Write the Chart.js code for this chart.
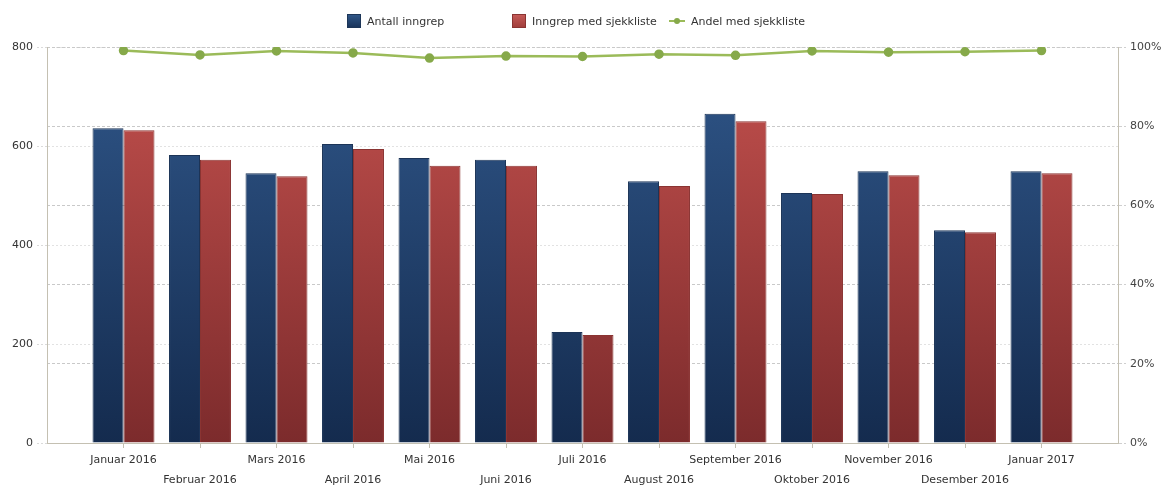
<!DOCTYPE html>
<html>
<head>
<meta charset="utf-8">
<script src="https://cdn.jsdelivr.net/npm/chart.js@4/dist/chart.umd.min.js"></script>
<style>
    html, body { margin: 0; padding: 0; background: #fff; }
    #wrap { position: relative; width: 1166px; height: 486px; }
    #legend { position: absolute; top: 13px; left: 0; width: 1166px; height: 18px;
        font: 11px "DejaVu Sans", sans-serif; color: #333; }
    .item { position: absolute; top: 0; display: flex; align-items: center; height: 16px; }
    .box { width: 14px; height: 14px; margin-right: 6px; box-sizing: border-box; }
    .blue { background: linear-gradient(#2f5687, #1a355c); border: 1px solid #1d3658; }
    .red { background: linear-gradient(#c55a57, #a23f3c); border: 1px solid #8a3432; }
    .lineMark { position: relative; width: 16px; height: 14px; margin-right: 6px; }
    .lineMark::before { content: ''; position: absolute; left: 0; right: 0; top: 6px; height: 2px; background: #9bbb59; }
    .lineMark::after { content: ''; position: absolute; left: 5px; top: 4px; width: 6px; height: 6px; border-radius: 50%; background: #86a94a; }
</style>
</head>
<body>
<div id="wrap">
    <canvas id="chart" width="1166" height="486"></canvas>
    <div id="legend">
        <div class="item" style="left:347px"><div class="box blue"></div>Antall inngrep</div>
        <div class="item" style="left:512px"><div class="box red"></div>Inngrep med sjekkliste</div>
        <div class="item" style="left:669px"><div class="lineMark"></div>Andel med sjekkliste</div>
    </div>
</div>
<script>
const months = ['Januar 2016', 'Februar 2016', 'Mars 2016', 'April 2016', 'Mai 2016', 'Juni 2016',
    'Juli 2016', 'August 2016', 'September 2016', 'Oktober 2016', 'November 2016', 'Desember 2016', 'Januar 2017'];
const antallInngrep = [636, 582, 545, 604, 576, 572, 224, 529, 665, 505, 549, 430, 549];
const medSjekkliste = [632, 572, 539, 594, 560, 560, 218, 519, 650, 503, 541, 426, 545];
const andelProsent = [99.1, 98.0, 99.0, 98.5, 97.2, 97.7, 97.6, 98.2, 97.9, 99.0, 98.7, 98.8, 99.1];
const leftTicks = [0, 200, 400, 600, 800];
const rightTicks = [0, 20, 40, 60, 80, 100];

const axisColor = '#c4c0b2';
const textColor = '#333';

function verticalGradient(context, top, bottom) {
    const area = context.chart.chartArea;
    if (!area) return top;
    const g = context.chart.ctx.createLinearGradient(0, area.top, 0, area.bottom);
    g.addColorStop(0, top);
    g.addColorStop(1, bottom);
    return g;
}

Chart.defaults.font.family = '"DejaVu Sans", sans-serif';
Chart.defaults.font.size = 11;
Chart.defaults.color = textColor;

new Chart(document.getElementById('chart').getContext('2d'), {
    data: {
        labels: months,
        datasets: [{
            type: 'line',
            label: 'Andel med sjekkliste',
            data: andelProsent,
            yAxisID: 'yPct',
            borderColor: '#9bbb59',
            borderWidth: 2.5,
            pointBackgroundColor: '#86a94a',
            pointBorderColor: '#86a94a',
            pointRadius: 3.5,
            tension: 0,
            order: 0
        }, {
            type: 'bar',
            label: 'Antall inngrep',
            data: antallInngrep,
            yAxisID: 'y',
            backgroundColor: ctx => verticalGradient(ctx, '#30578a', '#142b4e'),
            borderColor: '#1c3457',
            borderWidth: 1,
            categoryPercentage: 0.81,
            barPercentage: 1,
            order: 1
        }, {
            type: 'bar',
            label: 'Inngrep med sjekkliste',
            data: medSjekkliste,
            yAxisID: 'y',
            backgroundColor: ctx => verticalGradient(ctx, '#c4514e', '#7c2b2c'),
            borderColor: '#8a3432',
            borderWidth: 1,
            categoryPercentage: 0.81,
            barPercentage: 1,
            order: 1
        }]
    },
    options: {
        responsive: false,
        animation: false,
        layout: { padding: { top: 47, left: 0, right: 0, bottom: 0 } },
        plugins: {
            legend: { display: false },
            tooltip: { enabled: false }
        },
        scales: {
            x: {
                offset: true,
                // leave one empty category of room at each end, as in the original
                afterBuildTicks: scale => { scale._startValue = -1; scale._valueRange = months.length + 1; },
                grid: { display: true, offset: false, drawOnChartArea: false, drawTicks: true, tickLength: 5, tickColor: axisColor },
                border: { display: true, color: axisColor, width: 1 },
                ticks: {
                    autoSkip: false,
                    maxRotation: 0,
                    minRotation: 0,
                    padding: 2,
                    font: { lineHeight: 1.8 },
                    callback: function(value, index) {
                        const label = months[index];
                        return index % 2 === 0 ? [label] : ['', label];
                    }
                },
                afterFit: scale => { scale.height = 43; }
            },
            y: {
                position: 'left',
                min: 0,
                max: 800,
                afterBuildTicks: scale => { scale.ticks = leftTicks.map(v => ({ value: v })); },
                grid: { color: '#e2e2e2', tickLength: 10, tickColor: '#dadada', tickBorderDash: [2, 2] },
                border: { display: true, color: axisColor, width: 1, dash: [2, 2] },
                ticks: { padding: 4, color: textColor },
                afterFit: scale => { scale.width = 47; }
            },
            yPct: {
                position: 'right',
                min: 0,
                max: 100,
                afterBuildTicks: scale => { scale.ticks = rightTicks.map(v => ({ value: v })); },
                grid: { color: '#c9c9c9', tickLength: 8, tickColor: '#cfcfcf', tickBorderDash: [3, 2] },
                border: { display: true, color: axisColor, width: 1, dash: [3, 2] },
                ticks: { padding: 4, color: '#444', callback: v => v + '%' },
                afterFit: scale => { scale.width = 48; }
            }
        }
    }
});
</script>
</body>
</html>
